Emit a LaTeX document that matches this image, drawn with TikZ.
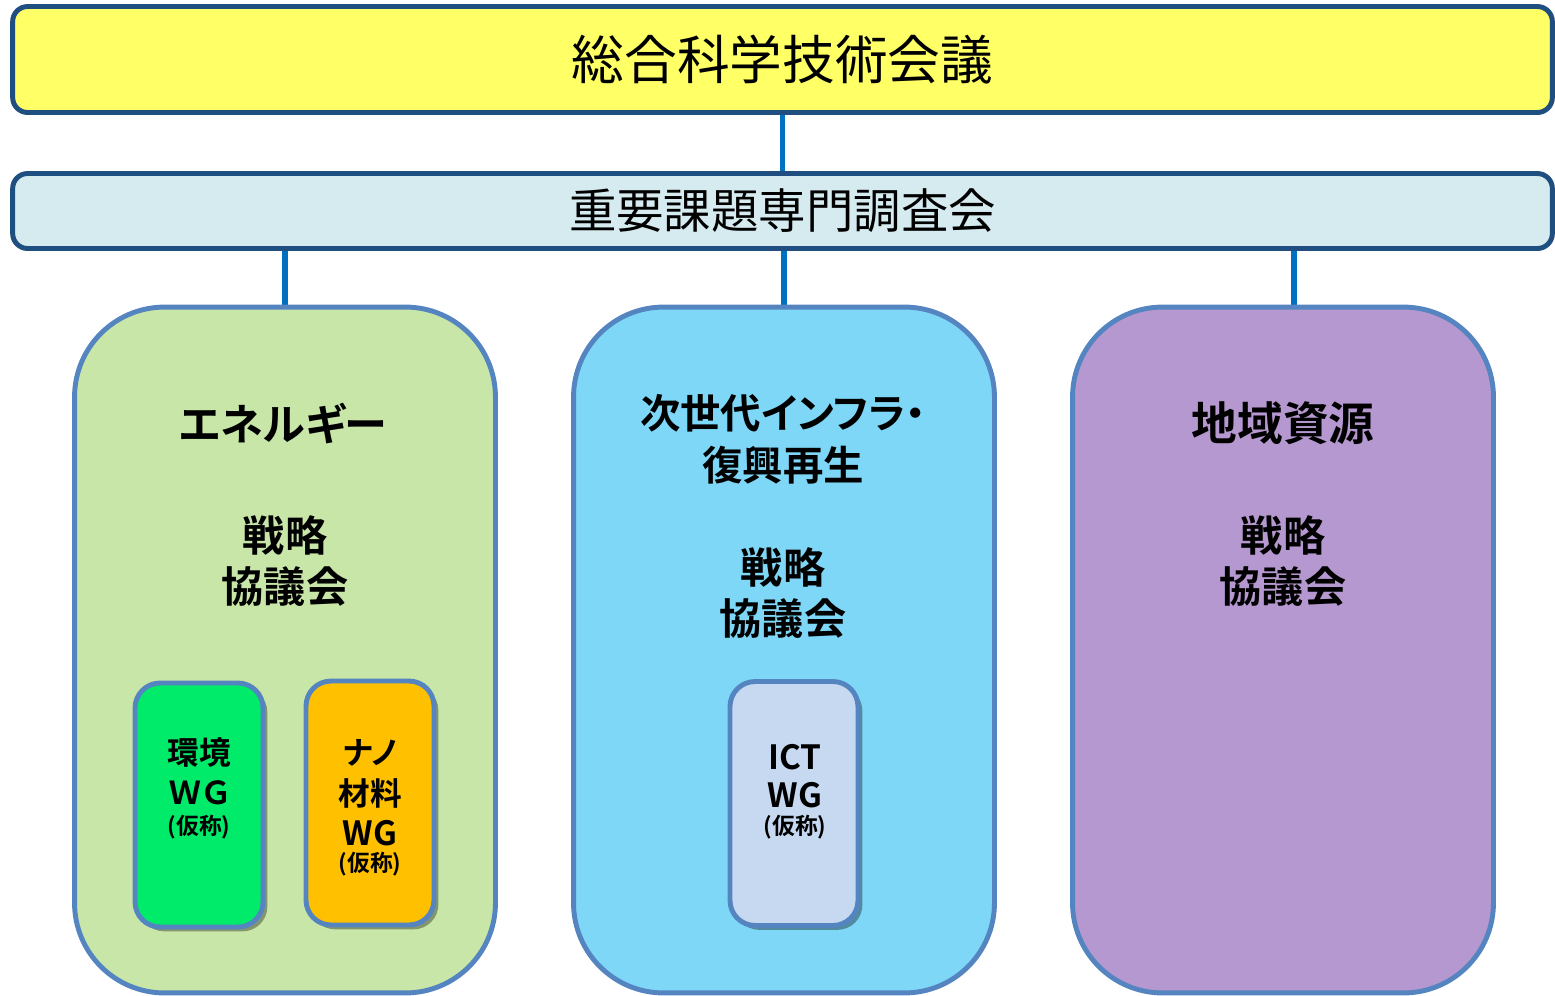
\documentclass[tikz,border=0pt]{standalone}
\usepackage{fontspec}
\setmainfont{Noto Sans CJK JP}[BoldFont={Noto Sans CJK JP Bold}]
\newfontfamily\jpp{Noto Sans CJK JP}[BoldFont={Noto Sans CJK JP Bold},RawFeature=+palt]
\usetikzlibrary{shadows,backgrounds}
\definecolor{barline}{HTML}{1F4E80}
\definecolor{topfill}{HTML}{FFFF66}
\definecolor{subfill}{HTML}{D5EBF0}
\definecolor{linkc}{HTML}{0070C0}
\definecolor{regline}{HTML}{5585C0}
\definecolor{greenfill}{HTML}{C8E6A8}
\definecolor{cyanfill}{HTML}{7FD7F7}
\definecolor{purplefill}{HTML}{B598CF}
\definecolor{envfill}{HTML}{00EB6A}
\definecolor{nanofill}{HTML}{FFC000}
\definecolor{ictfill}{HTML}{C6D9F1}
\newcommand{\fs}[1]{\fontsize{#1}{#1}\selectfont}
\begin{document}
\begin{tikzpicture}[x=0.02cm,y=-0.02cm,
  bar/.style={draw=barline, line width=2.8pt, rounded corners=0.3cm, inner sep=0pt},
  region/.style={draw=regline, line width=2.8pt, rounded corners=1.8cm, minimum width=8.42cm, minimum height=13.72cm, inner sep=0pt},
  wgbox/.style={draw=regline, line width=2.8pt, rounded corners=0.5cm, minimum width=2.56cm, minimum height=4.88cm, inner sep=0pt,
    drop shadow={shadow xshift=2.5pt, shadow yshift=-2.5pt, opacity=0.35, fill=black}},
  link/.style={draw=linkc, line width=3pt},
  lbl/.style={inner sep=0pt, text=black},
  title/.style={lbl, font=\jpp\bfseries\fs{26}},
  strat/.style={lbl, font=\bfseries\fs{24}},
  wgtxt/.style={lbl, font=\jpp\bfseries\fs{18}},
  wglat/.style={lbl, font=\bfseries\fs{19}},
  kasho/.style={lbl, font=\jpp\bfseries\fs{13}}]
\useasboundingbox (0,0) rectangle (1555,995);

\node[bar, fill=topfill, minimum width=30.8cm, minimum height=2.12cm, font=\fs{30}] (top) at (782.5,59.5) {総合科学技術会議};
\node[bar, fill=subfill, minimum width=30.8cm, minimum height=1.5cm, font=\fs{27}] (sub) at (782.5,211) {重要課題専門調査会};

\node[region, fill=greenfill] (energy) at (285,650) {};
\node[region, fill=cyanfill] (infra) at (784,650) {};
\node[region, fill=purplefill] (local) at (1283,650) {};

\begin{pgfonlayer}{background}
\draw[link] (top.south) -- (sub.north);
\draw[link] (sub.south -| energy.north) -- (energy.north);
\draw[link] (sub.south -| infra.north) -- (infra.north);
\draw[link] ([xshift=0.22cm]local.north) -- ([xshift=0.22cm]local.north |- sub.south);
\end{pgfonlayer}

\node[title, font=\jpp\bfseries\fs{24.5}] (t1) at (283,424) {エネルギー};
\node[strat] (s1a) at (285,535) {戦略};
\node[strat] (s1b) at (285,587) {協議会};

\node[title, font=\jpp\bfseries\fs{23}] (t2a) at (783,413) {次世代インフラ・};
\node[title, font=\jpp\bfseries\fs{23}] (t2b) at (783,465) {復興再生};
\node[strat] (s2a) at (783,567) {戦略};
\node[strat] (s2b) at (783,619) {協議会};

\node[title] (t3) at (1283,423) {地域資源};
\node[strat] (s3a) at (1283,535) {戦略};
\node[strat] (s3b) at (1283,587) {協議会};

\node[wgbox, fill=envfill] (wg1) at (199,805) {};
\node[wgbox, fill=nanofill] (wg2) at (370,803) {};
\node[wgbox, fill=ictfill] (wg3) at (794,803.5) {};

\node[wgtxt] (w1a) at (199,753) {環境};
\node[wgtxt] (w1b) at (199,793) {ＷＧ};
\node[kasho] (w1c) at (199,827) {(仮称)};

\node[wgtxt] (w2a) at (370,753) {ナノ};
\node[wgtxt] (w2b) at (370,793) {材料};
\node[wglat] (w2c) at (370,833) {WG};
\node[kasho] (w2d) at (370,864) {(仮称)};

\node[wglat] (w3a) at (795,757) {ICT};
\node[wglat] (w3b) at (795,795) {WG};
\node[kasho] (w3c) at (795,827) {(仮称)};
\end{tikzpicture}
\end{document}
